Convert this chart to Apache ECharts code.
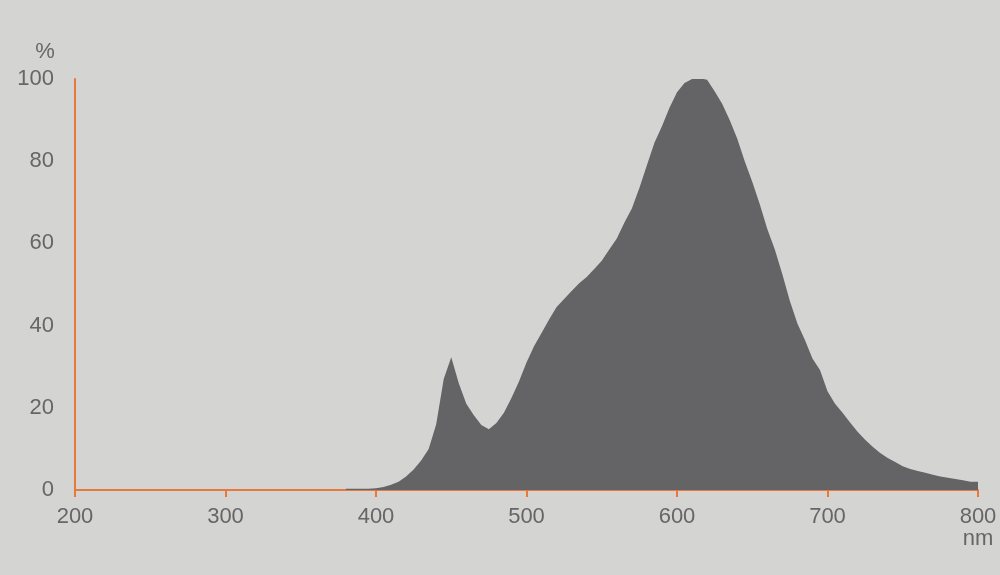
<!DOCTYPE html>
<html>
<head>
<meta charset="utf-8">
<script src="https://cdn.jsdelivr.net/npm/echarts@6/dist/echarts.min.js"></script>
<style>
html,body{margin:0;padding:0;background:#d4d4d2;}
#c{width:1000px;height:575px;}
</style>
</head>
<body>
<div id="c"></div>
<script>
const wavelengths = [380,385,390,395,400,405,410,415,420,425,430,435,440,445,450,455,460,465,470,475,480,485,490,495,500,505,510,515,520,525,530,535,540,545,550,555,560,565,570,575,580,585,590,595,600,605,610,615,620,625,630,635,640,645,650,655,660,665,670,675,680,685,690,695,700,705,710,715,720,725,730,735,740,745,750,755,760,765,770,775,780,785,790,795,800];
const intensity = [0.3,0.3,0.3,0.3,0.4,0.7,1.3,2.0,3.3,5.0,7.2,10,16,27,32.3,26,21,18.2,15.8,14.8,16.3,18.8,22.4,26.4,31,35,38.2,41.5,44.5,46.5,48.4,50.3,51.8,53.8,55.8,58.5,61.2,65,68.5,73.5,79,84.5,88.5,93,96.8,99,100,100.2,99.8,97,94,90,85.5,80,75,69.5,63.5,58.5,52.5,46,40.5,36.5,32,29.2,24,21,18.8,16.4,14.2,12.2,10.5,9,7.8,6.8,5.8,5.1,4.6,4.2,3.7,3.3,3.0,2.7,2.4,2.0,2.0];
const xTicks = {min:200, max:800, interval:100};
const yTicks = {min:0, max:100, interval:20};
const yUnit = '%';
const xUnit = 'nm';

const data = wavelengths.map((w,i)=>[w,intensity[i]]);
const chart = echarts.init(document.getElementById('c'));
const axisColor = '#e8793a';
const textColor = '#666666';
const font = 'Arial, "Liberation Sans", sans-serif';
chart.setOption({
  backgroundColor:'#d4d4d2',
  animation:false,
  grid:{left:75,right:22,top:79,bottom:85,containLabel:false},
  xAxis:{type:'value',min:xTicks.min,max:xTicks.max,interval:xTicks.interval,
    axisLine:{show:true,onZero:false,lineStyle:{color:axisColor,width:2}},
    axisTick:{show:true,length:7,inside:false,lineStyle:{color:axisColor,width:2}},
    axisLabel:{color:textColor,fontSize:22,fontFamily:font,margin:16},
    splitLine:{show:false}},
  yAxis:{type:'value',min:yTicks.min,max:yTicks.max,interval:yTicks.interval,
    axisLine:{show:true,lineStyle:{color:axisColor,width:2}},
    axisTick:{show:false},
    axisLabel:{color:textColor,fontSize:22,fontFamily:font,margin:21},
    splitLine:{show:false}},
  graphic:[
    {type:'text',x:45,y:52,style:{text:yUnit,fill:textColor,font:'22px '+font,align:'center',verticalAlign:'middle'}},
    {type:'text',x:978,y:539,style:{text:xUnit,fill:textColor,font:'22px '+font,align:'center',verticalAlign:'middle'}}
  ],
  series:[{type:'line',data:data,symbol:'none',smooth:false,
    lineStyle:{width:0,color:'#646466'},
    areaStyle:{color:'#646466',opacity:1},z:1}]
});
</script>
</body>
</html>
